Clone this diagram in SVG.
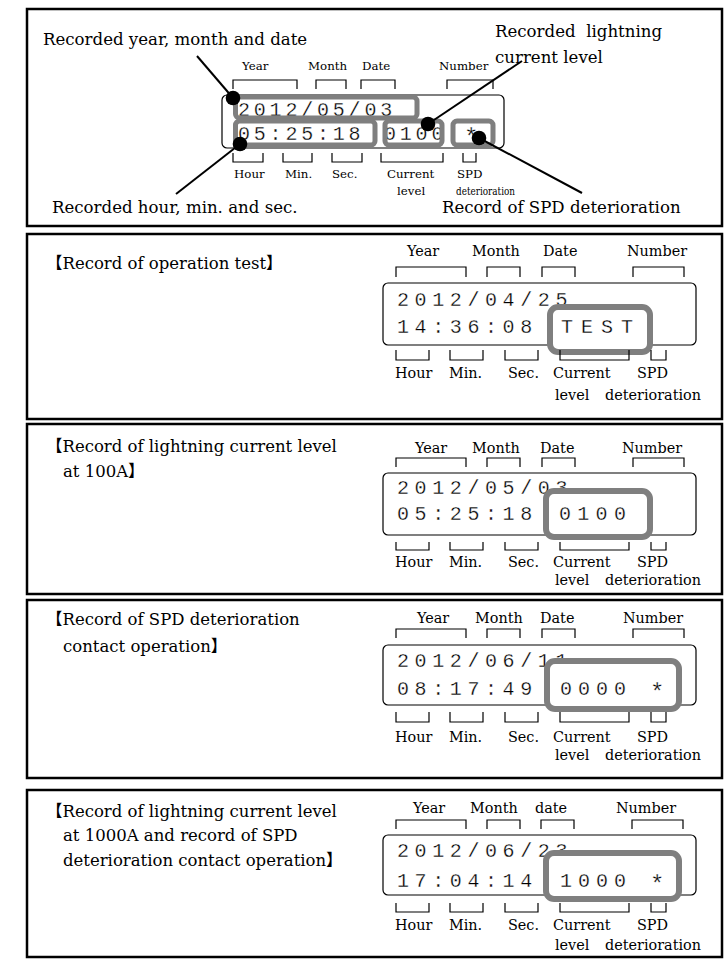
<svg xmlns="http://www.w3.org/2000/svg" width="725" height="960" viewBox="0 0 725 960">
<style>
.panel{fill:none;stroke:#000;stroke-width:2.5}
.lcd{fill:none;stroke:#000;stroke-width:1.2}
.br{fill:none;stroke:#000;stroke-width:1.2}
.hl{fill:#fff;stroke:#7f7f7f;stroke-width:6}
.hl1{fill:none;stroke:#7f7f7f;stroke-width:5}
.ann{font-family:"DejaVu Serif","Liberation Serif",serif;font-size:16.6px;fill:#000;white-space:pre}
.title{font-family:"DejaVu Serif","Liberation Serif","Noto Sans CJK JP",serif;font-size:16.5px;fill:#000;white-space:pre}
.lbl{font-family:"DejaVu Serif","Liberation Serif",serif;font-size:14.4px;fill:#000}
.lbls{font-family:"DejaVu Serif","Liberation Serif",serif;font-size:11.8px;fill:#000}
.dig{font-family:"Liberation Mono","DejaVu Sans Mono",monospace;font-size:20px;letter-spacing:5.6px;fill:#000;stroke:#fff;stroke-width:0.3px;white-space:pre}
.digs{font-family:"Liberation Mono","DejaVu Sans Mono",monospace;font-size:20px;letter-spacing:3.8px;fill:#000;stroke:#fff;stroke-width:0.3px;white-space:pre}
.star{font-size:24px}
.lead{stroke:#000;stroke-width:2;fill:none}
.dot{fill:#000}
</style>

<g id="panel-legend">
<rect class="panel" x="27" y="9" width="695" height="217"/>
<text class="ann" x="43" y="45">Recorded year, month and date</text>
<text class="ann" x="495" y="37">Recorded  lightning</text>
<text class="ann" x="495" y="63">current level</text>
<text class="ann" x="52" y="213">Recorded hour, min. and sec.</text>
<text class="ann" x="442" y="213">Record of SPD deterioration</text>
<text class="lbls" x="242" y="70">Year</text>
<text class="lbls" x="308" y="70">Month</text>
<text class="lbls" x="362" y="70">Date</text>
<text class="lbls" x="439" y="70">Number</text>
<path class="br" d="M233 89V80H297V89M316 89V80H346V89M361 89V80H395V89M447 89V80H493V89"/>
<rect class="lcd" x="222" y="95" width="282" height="53" rx="5"/>
<text class="digs" x="238" y="116">2012/05/03</text>
<text class="digs" x="238" y="140">05:25:18</text>
<text class="digs" x="384" y="140">0100</text>
<text class="digs star" x="464" y="145">*</text>
<rect class="hl1" x="235.5" y="97" width="181.5" height="21" rx="4"/>
<rect class="hl1" x="235.5" y="121" width="139.5" height="24" rx="4"/>
<rect class="hl1" x="385" y="121" width="57" height="24" rx="4"/>
<rect class="hl1" x="453" y="121" width="40" height="24" rx="4"/>
<path class="br" d="M233 153V162H263V153M283 153V162H312V153M332 153V162H362V153M381 153V162H443V153M463 153V162H476V153"/>
<text class="lbls" x="234" y="178">Hour</text>
<text class="lbls" x="285" y="178">Min.</text>
<text class="lbls" x="332" y="178">Sec.</text>
<text class="lbls" x="387" y="178">Current</text>
<text class="lbls" x="457" y="178">SPD</text>
<text class="lbls" x="397" y="195">level</text>
<text class="lbls" x="456" y="195" textLength="59" lengthAdjust="spacingAndGlyphs">deterioration</text>
</g>

<g id="connectors">
<line class="lead" x1="197" y1="56" x2="233" y2="98"/>
<line class="lead" x1="176" y1="194" x2="240" y2="144"/>
<line class="lead" x1="522" y1="61" x2="428" y2="124"/>
<line class="lead" x1="582" y1="193" x2="479" y2="138"/>
<circle class="dot" cx="233" cy="98" r="7.3"/>
<circle class="dot" cx="240" cy="144" r="7.3"/>
<circle class="dot" cx="428" cy="124" r="7.3"/>
<circle class="dot" cx="479" cy="138" r="7.3"/>
</g>

<g id="panel-operation-test">
<rect class="panel" x="27" y="234" width="695" height="185"/>
<text class="title" x="46" y="269">【Record of operation test】</text>
<text class="lbl" x="407" y="256">Year</text>
<text class="lbl" x="472" y="256">Month</text>
<text class="lbl" x="543" y="256">Date</text>
<text class="lbl" x="627" y="256">Number</text>
<path class="br" d="M396 277V267H466V277M487 277V267H520V277M542 277V267H575V277M633 277V267H684V277"/>
<rect class="lcd" x="383" y="283" width="313" height="62" rx="5"/>
<text class="dig" x="397" y="306">2012/04/25</text>
<text class="dig" x="397" y="333">14:36:08</text>
<rect class="hl" x="550" y="307" width="100" height="45" rx="8"/>
<text class="dig" x="561" y="333" style="letter-spacing:8px">TEST</text>
<path class="br" d="M396 350V360H429V350M450 350V360H483V350M505 350V360H538V350M560 350V360H629V350M651 350V360H666V350"/>
<text class="lbl" x="395" y="378">Hour</text>
<text class="lbl" x="449" y="378">Min.</text>
<text class="lbl" x="508" y="378">Sec.</text>
<text class="lbl" x="553" y="378">Current</text>
<text class="lbl" x="637" y="378">SPD</text>
<text class="lbl" x="555" y="400">level</text>
<text class="lbl" x="605" y="400">deterioration</text>
</g>

<g id="panel-current-100a">
<rect class="panel" x="27" y="424" width="695" height="170"/>
<text class="title" x="46" y="452">【Record of lightning current level</text>
<text class="title" x="63" y="477">at 100A】</text>
<text class="lbl" x="415" y="453">Year</text>
<text class="lbl" x="472" y="453">Month</text>
<text class="lbl" x="540" y="453">Date</text>
<text class="lbl" x="622" y="453">Number</text>
<path class="br" d="M396 467V458H466V467M487 467V458H520V467M542 467V458H575V467M633 467V458H684V467"/>
<rect class="lcd" x="383" y="473" width="313" height="62" rx="5"/>
<text class="dig" x="397" y="494">2012/05/03</text>
<text class="dig" x="397" y="520">05:25:18</text>
<rect class="hl" x="546" y="491" width="104" height="46" rx="8"/>
<text class="dig" x="559" y="520" style="letter-spacing:6.3px">0100</text>
<path class="br" d="M396 542V550H429V542M450 542V550H483V542M505 542V550H538V542M560 542V550H629V542M651 542V550H666V542"/>
<text class="lbl" x="395" y="567">Hour</text>
<text class="lbl" x="449" y="567">Min.</text>
<text class="lbl" x="508" y="567">Sec.</text>
<text class="lbl" x="553" y="567">Current</text>
<text class="lbl" x="637" y="567">SPD</text>
<text class="lbl" x="555" y="585">level</text>
<text class="lbl" x="605" y="585">deterioration</text>
</g>

<g id="panel-spd-contact">
<rect class="panel" x="27" y="600" width="695" height="178"/>
<text class="title" x="46" y="625">【Record of SPD deterioration</text>
<text class="title" x="63" y="652">contact operation】</text>
<text class="lbl" x="417" y="623">Year</text>
<text class="lbl" x="475" y="623">Month</text>
<text class="lbl" x="540" y="623">Date</text>
<text class="lbl" x="623" y="623">Number</text>
<path class="br" d="M396 638V629H466V638M487 638V629H520V638M542 638V629H575V638M633 638V629H684V638"/>
<rect class="lcd" x="383" y="645" width="313" height="60" rx="5"/>
<text class="dig" x="397" y="667">2012/06/11</text>
<text class="dig" x="397" y="695">08:17:49</text>
<rect class="hl" x="547" y="661" width="132" height="48" rx="8"/>
<text class="dig" x="560" y="695" style="letter-spacing:6px">0000 <tspan class="star" dy="5">*</tspan></text>
<path class="br" d="M396 712V722H429V712M450 712V722H483V712M505 712V722H538V712M560 712V722H629V712M651 712V722H666V712"/>
<text class="lbl" x="395" y="742">Hour</text>
<text class="lbl" x="449" y="742">Min.</text>
<text class="lbl" x="508" y="742">Sec.</text>
<text class="lbl" x="553" y="742">Current</text>
<text class="lbl" x="637" y="742">SPD</text>
<text class="lbl" x="555" y="760">level</text>
<text class="lbl" x="605" y="760">deterioration</text>
</g>

<g id="panel-current-1000a-spd">
<rect class="panel" x="27" y="790" width="695" height="167"/>
<text class="title" x="46" y="817">【Record of lightning current level</text>
<text class="title" x="63" y="841">at 1000A and record of SPD</text>
<text class="title" x="63" y="866">deterioration contact operation】</text>
<text class="lbl" x="413" y="813">Year</text>
<text class="lbl" x="470" y="813">Month</text>
<text class="lbl" x="535" y="813">date</text>
<text class="lbl" x="616" y="813">Number</text>
<path class="br" d="M396 829V820H466V829M487 829V820H520V829M541 829V820H574V829M632 829V820H683V829"/>
<rect class="lcd" x="383" y="835" width="313" height="60" rx="5"/>
<text class="dig" x="397" y="857">2012/06/23</text>
<text class="dig" x="397" y="887">17:04:14</text>
<rect class="hl" x="546" y="853" width="133" height="46" rx="8"/>
<text class="dig" x="560" y="887" style="letter-spacing:6px">1000 <tspan class="star" dy="5">*</tspan></text>
<path class="br" d="M396 903V912H429V903M450 903V912H483V903M505 903V912H538V903M560 903V912H629V903M651 903V912H666V903"/>
<text class="lbl" x="395" y="930">Hour</text>
<text class="lbl" x="449" y="930">Min.</text>
<text class="lbl" x="508" y="930">Sec.</text>
<text class="lbl" x="553" y="930">Current</text>
<text class="lbl" x="637" y="930">SPD</text>
<text class="lbl" x="555" y="950">level</text>
<text class="lbl" x="605" y="950">deterioration</text>
</g>
</svg>
